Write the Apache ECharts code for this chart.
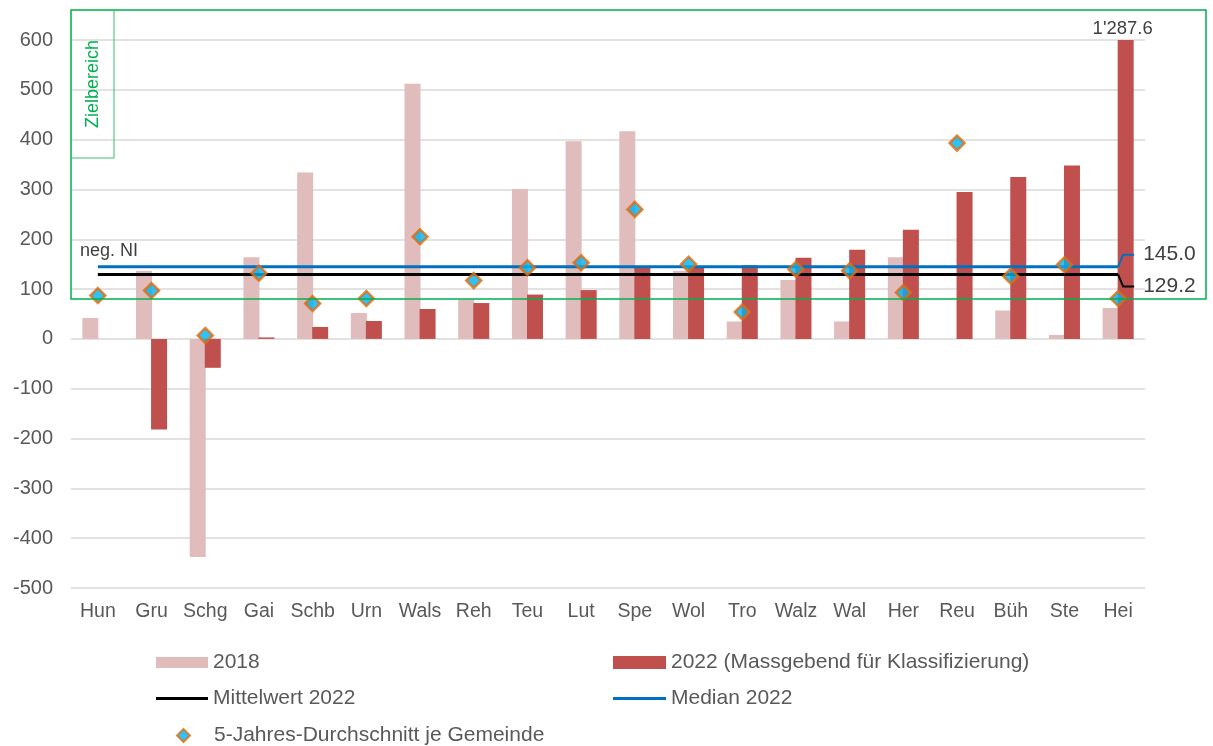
<!DOCTYPE html>
<html><head><meta charset="utf-8">
<script src="https://cdn.jsdelivr.net/npm/echarts@6/dist/echarts.min.js"></script>
<style>html,body{margin:0;padding:0;background:#fff}#c{width:1213px;height:746px}</style>
</head><body><div id="c"></div>
<script>
const categories = ['Hun','Gru','Schg','Gai','Schb','Urn','Wals','Reh','Teu','Lut','Spe','Wol','Tro','Walz','Wal','Her','Reu','Büh','Ste','Hei'];
const values2018 = [42,137,-438,164,334,52,512,79,301,397,417,137,35,118,35,164,null,57,8,62];
const values2022 = [null,-182,-58,3,24,36,60,72,89,98,145,144,148,163,179,219,295,325,348,1287.6];
const avg5y = [87,97,7,132,71,81,205,117,143,153,260,150,54,140,137,93,393,126,149,81];
const mean2022 = 129.2;
const median2022 = 145.0;
const yMin = -500, yMax = 600, yInterval = 100;
const targetBottom = 80;   // lower edge of the Zielbereich
const names = {y18:'2018', y22:'2022 (Massgebend für Klassifizierung)', mean:'Mittelwert 2022', median:'Median 2022', avg:'5-Jahres-Durchschnitt je Gemeinde'};

const FONT = 'Liberation Sans, Arial, sans-serif';
const TXT = '#595959';
const GREEN = '#00b050';

function fmtThousands(v){
  const parts = v.toFixed(1).split('.');
  return parts[0].replace(/\B(?=(\d{3})+(?!\d))/g, "'") + '.' + parts[1];
}

const chart = echarts.init(document.getElementById('c'), null, {renderer:'canvas'});

function endLabelSeries(value, color, dir){
  return {
    type:'custom', silent:true, z:6,
    data:[[categories.length-1, value, dir]],
    renderItem:function(params, api){
      const p = api.coord([api.value(0), api.value(1)]);
      const x0 = p[0], y0 = p[1], y1 = y0 + api.value(2)*12;
      return {type:'group', children:[
        {type:'polyline', shape:{points:[[x0,y0],[x0+5,y1],[x0+16,y1]]}, style:{stroke:color, lineWidth:2, fill:null}},
        {type:'text', style:{text:api.value(1).toFixed(1), x:x0+25, y:y1, verticalAlign:'middle', align:'left', fontSize:21, fontFamily:FONT, fill:'#404040'}}
      ]};
    }
  };
}

const legendBase = {orient:'horizontal', padding:0, itemGap:10, textStyle:{fontSize:21, color:TXT, fontFamily:FONT}, selectedMode:false};

const option = {
  backgroundColor:'#fff',
  animation:false,
  textStyle:{fontFamily:FONT},
  grid:{left:71, right:68, top:40, bottom:158, containLabel:false},
  xAxis:{
    type:'category', data:categories,
    axisLine:{show:false, onZero:false}, axisTick:{show:false},
    axisLabel:{fontSize:19.5, color:TXT, margin:14, interval:0, fontFamily:FONT}
  },
  yAxis:{
    type:'value', min:yMin, max:yMax, interval:yInterval,
    axisLine:{show:false}, axisTick:{show:false},
    axisLabel:{fontSize:20, color:TXT, margin:18, fontFamily:FONT},
    splitLine:{lineStyle:{color:'#d9d9d9', width:1.5}}
  },
  legend:[
    Object.assign({}, legendBase, {data:[{name:names.y18, icon:'rect'}], left:156, top:652, itemWidth:52, itemHeight:11}),
    Object.assign({}, legendBase, {data:[{name:names.y22, icon:'rect'}], left:613, top:652, itemWidth:53, itemHeight:13}),
    Object.assign({}, legendBase, {data:[{name:names.mean, icon:'rect'}], left:156, top:688, itemWidth:52, itemHeight:3}),
    Object.assign({}, legendBase, {data:[{name:names.median, icon:'rect'}], left:613, top:688, itemWidth:53, itemHeight:3}),
    Object.assign({}, legendBase, {data:[names.avg], left:176, top:725, itemWidth:13, itemHeight:13, textStyle:{fontSize:21, color:TXT, fontFamily:FONT, padding:[0,0,0,19]}})
  ],
  series:[
    {name:names.y18, type:'bar', data:values2018, barWidth:16, barGap:'-6%', itemStyle:{color:'#e0bcbc'}, z:2},
    {name:names.y22, type:'bar', data:values2022.map((v,i)=> i===values2022.length-1 ? {value:v, label:{show:true, position:'top', distance:2, offset:[-3,0], formatter:(p)=>fmtThousands(p.value), fontSize:18.5, color:'#404040', fontFamily:FONT}} : v), barWidth:16, itemStyle:{color:'#c0504d'}, z:3},
    {name:names.mean, type:'line', data:categories.map(()=>mean2022), symbol:'none', lineStyle:{color:'#000', width:3}, itemStyle:{color:'#000'}, z:4},
    {name:names.median, type:'line', data:categories.map(()=>median2022), symbol:'none', lineStyle:{color:'#0070c0', width:3}, itemStyle:{color:'#0070c0'}, z:5},
    endLabelSeries(median2022, '#0070c0', -1),
    endLabelSeries(mean2022, '#000', 1),
    {name:names.avg, type:'scatter', data:avg5y, symbol:'diamond', symbolSize:15, itemStyle:{color:'#00b0f0', borderColor:'#e46c0a', borderWidth:2.5}, z:10}
  ]
};
chart.setOption(option);

const yBottom = chart.convertToPixel({yAxisIndex:0}, targetBottom);
const yNeg = chart.convertToPixel({yAxisIndex:0}, median2022);
chart.setOption({graphic:[
  {type:'rect', z:100, silent:true, shape:{x:71, y:10, width:1206-71, height:yBottom-10}, style:{fill:null, stroke:GREEN, lineWidth:1.5}},
  {type:'rect', z:100, silent:true, shape:{x:71, y:10, width:43, height:148}, style:{fill:null, stroke:'#3cbf6a', lineWidth:1}},
  {type:'text', z:100, silent:true, x:93, y:84, rotation:Math.PI/2, style:{text:'Zielbereich', align:'center', verticalAlign:'middle', fontSize:18, fontFamily:FONT, fill:GREEN}},
  {type:'text', z:100, silent:true, x:80, y:yNeg-16, style:{text:'neg. NI', align:'left', verticalAlign:'middle', fontSize:18, fontFamily:FONT, fill:'#404040'}}
]});
</script></body></html>
